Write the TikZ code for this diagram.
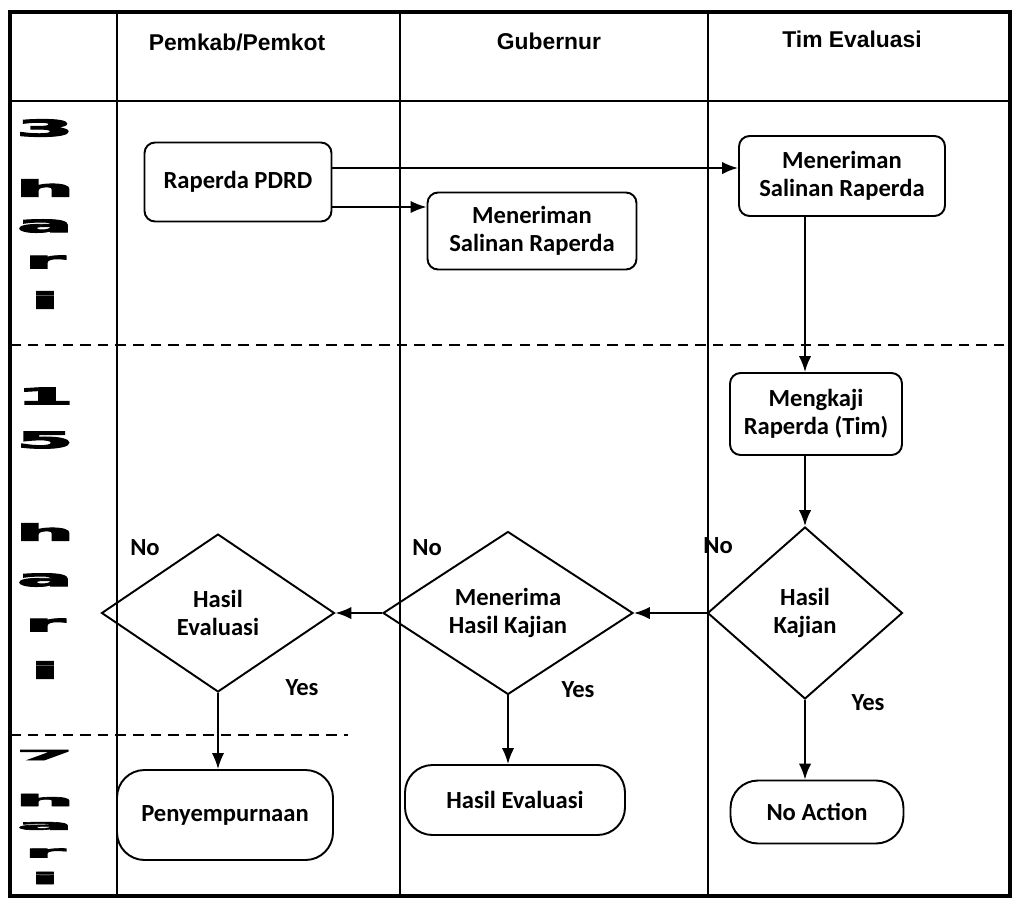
\documentclass[tikz,border=0pt]{standalone}
\usepackage{fontspec}
\usepackage{graphicx}
\setmainfont{Carlito}
\newfontfamily\headfont{Liberation Sans}
\newfontfamily\blokfont[FakeBold=4]{DejaVu Sans}
\usetikzlibrary{shapes.geometric,arrows.meta}

\tikzset{
	teks/.style = {font=\bfseries\fontsize{14}{16}\selectfont},
	proses/.style = {draw, teks, rounded corners=6pt, line width=1.1pt, align=center, inner sep=2pt},
	akhir/.style = {proses, rounded corners=0.55cm},
	keputusan/.style = {draw, diamond, teks, line width=1.1pt, align=center, inner sep=0pt},
	panah/.style = {-{Latex[length=9pt,width=7pt]}, line width=1.1pt},
	batas/.style = {line width=1.1pt},
	pisah/.style = {line width=1.5pt, dash pattern=on 6pt off 4pt},
	judul/.style = {font=\headfont\bfseries\fontsize{13}{15}\selectfont},
	hari/.style = {font=\blokfont\bfseries\fontsize{13}{13}\selectfont, inner sep=0pt}
}

\begin{document}
\begin{tikzpicture}[x=0.02cm, y=-0.02cm]
	\useasboundingbox (0,0) rectangle (1018,900);
	
	% tabel
	\draw[line width=2pt] (10,12) rectangle (1010,896);
	\draw[batas] (10,101) -- (1010,101);
	\draw[batas] (117,12) -- (117,896);
	\draw[batas] (400,12) -- (400,896);
	\draw[batas] (708,12) -- (708,896);
	\draw[pisah] (10,345) -- (1010,345);
	\draw[pisah] (10,735) -- (348,735);
	
	\node[judul](pemkab) at (237,42) {Pemkab/Pemkot};
	\node[judul](gub) at (549,41) {Gubernur};
	\node[judul](tim) at (852,39) {Tim Evaluasi};
	
	% 3 hari, 15 hari, 7 hari
	\foreach \ch/\yy/\sy in {3/128/1, h/188/1, a/226/1, r/262/1, i/300/1,
		1/396/1, 5/440/1, h/532/1, a/580/1, r/625/1, i/670/1,
		7/755/0.6, h/800/0.7, a/826/0.6, r/853/0.7, i/878/0.7}
		\node[hari](hr\yy) at (45,\yy) {\scalebox{3.6}[\sy]{\ch}};
	
	% langkah
	\node[proses, minimum width=3.74cm, minimum height=1.58cm](rap) at (238,182) {Raperda PDRD};
	\node[proses, minimum width=4.18cm, minimum height=1.54cm](salgub) at (532,231) {Meneriman\\Salinan Raperda};
	\node[proses, minimum width=4.12cm, minimum height=1.6cm](saltim) at (842,176) {Meneriman\\Salinan Raperda};
	\node[proses, minimum width=3.44cm, minimum height=1.64cm](kaji) at (816,414) {Mengkaji\\Raperda (Tim)};
	
	\node[keputusan, aspect=1.13, minimum width=3.9cm, minimum height=3.44cm](kajian) at (805,613) {Hasil\\Kajian};
	\node[keputusan, aspect=1.53, minimum width=5cm, minimum height=3.26cm](terima) at (508,613) {Menerima\\Hasil Kajian};
	\node[keputusan, aspect=1.47, minimum width=4.66cm, minimum height=3.16cm](eval) at (218,613) {Hasil\\Evaluasi};
	
	\node[akhir, minimum width=4.32cm, minimum height=1.8cm](sempurna) at (225,815) {Penyempurnaan};
	\node[akhir, minimum width=4.4cm, minimum height=1.4cm](hasil) at (515,800) {Hasil Evaluasi};
	\node[akhir, minimum width=3.46cm, minimum height=1.26cm](noact) at (817,812) {No Action};
	
	\node[teks](no1) at (145,548) {No};
	\node[teks](no2) at (427,548) {No};
	\node[teks](no3) at (718,546) {No};
	\node[teks](yes1) at (302,688) {Yes};
	\node[teks](yes2) at (578,690) {Yes};
	\node[teks](yes3) at (868,703) {Yes};
	
	% panah
	\draw[panah] ([yshift=0.28cm]rap.east) coordinate(r1) -- (r1 -| saltim.west);
	\draw[panah] ([yshift=-0.5cm]rap.east) coordinate(r2) -- (r2 -| salgub.west);
	\draw[panah] (saltim.south -| kajian.north) -- (kaji.north -| kajian.north);
	\draw[panah] (kaji.south -| kajian.north) -- (kajian.north);
	\draw[panah] (kajian.west) -- (terima.east);
	\draw[panah] (terima.west) -- (eval.east);
	\draw[panah] (eval.south) -- (sempurna.north -| eval.south);
	\draw[panah] (terima.south) -- (hasil.north -| terima.south);
	\draw[panah] (kajian.south) -- (noact.north -| kajian.south);
\end{tikzpicture}
\end{document}
